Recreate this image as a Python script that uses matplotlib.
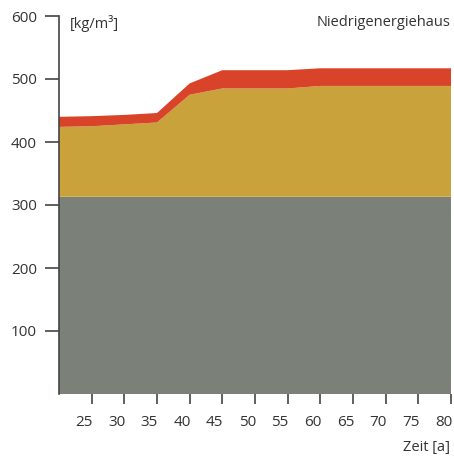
import matplotlib
matplotlib.use("Agg")
import matplotlib.pyplot as plt
import matplotlib.transforms as mtransforms
import numpy as np

plt.rcParams['font.family'] = ['Open Sans', 'DejaVu Sans']

years = [20, 25, 30, 35, 40, 45, 50, 55, 60, 65, 70, 75, 80]
grau = [313, 313, 313, 313, 313, 313, 313, 313, 313, 313, 313, 313, 313]
gelb = [111, 112, 115, 118, 162, 172, 172, 172, 176, 176, 176, 176, 176]
rot = [16, 16, 15, 15, 18, 29, 29, 29, 28, 28, 28, 28, 28]

xticks = [25, 30, 35, 40, 45, 50, 55, 60, 65, 70, 75, 80]
yticks = [100, 200, 300, 400, 500, 600]

colors = ['#7b8179', '#c9a23b', '#d8432a']

fig = plt.figure(figsize=(4.54, 4.59), dpi=100)
ax = fig.add_axes([59/454, 1 - 394/459, 392/454, 378/459])
ax.stackplot(years, grau, gelb, rot, colors=colors, linewidth=0)

ax.set_xlim(20, 80)
ax.set_ylim(0, 600)
ax.set_xticks(xticks)
ax.set_yticks(yticks)
ax.tick_params(axis='y', length=10, width=1.2, color='#444444', labelsize=11, pad=6, labelcolor='#333333')
ax.tick_params(axis='x', length=7, width=1.2, color='#444444', labelsize=11, pad=8, labelcolor='#333333')
offset = mtransforms.ScaledTranslation(1/100, 0, fig.dpi_scale_trans)
for lab in ax.get_xticklabels():
    lab.set_ha('right')
    lab.set_transform(lab.get_transform() + offset)
for s in ['top', 'right']:
    ax.spines[s].set_visible(False)
ax.spines['bottom'].set_visible(False)
ax.spines['left'].set_color('#444444')
ax.spines['left'].set_linewidth(1.2)

fig.text(70/454, 1 - 23/459, '[kg/m³]', fontsize=10.5, color='#333333', ha='left', va='center')
fig.text(450/454, 1 - 23/459, 'Niedrigenergiehaus', fontsize=10.5, color='#333333', ha='right', va='center')
fig.text(450/454, 1 - 448/459, 'Zeit [a]', fontsize=10.5, color='#333333', ha='right', va='center')

fig.savefig('out.png', dpi=100)
